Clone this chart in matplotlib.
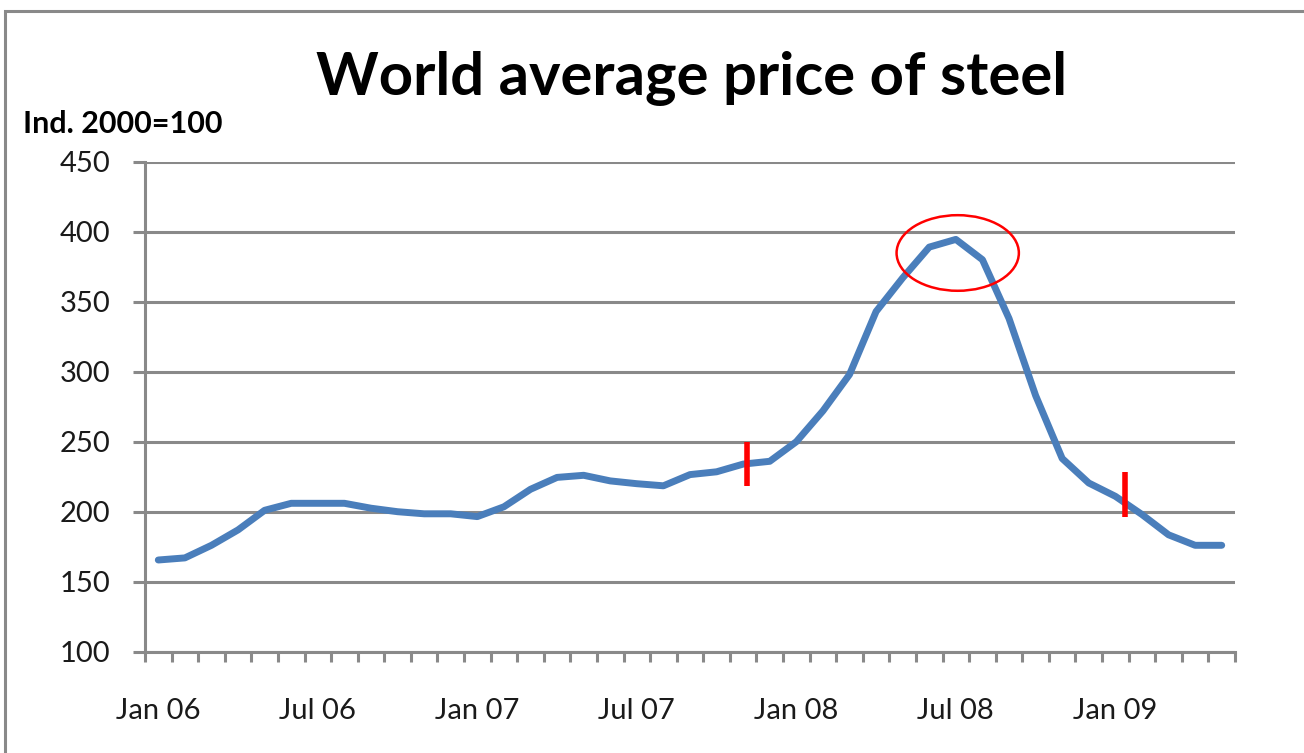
import matplotlib
matplotlib.use("Agg")
import matplotlib.pyplot as plt
from matplotlib.patches import Ellipse, Rectangle
import numpy as np

months = ["Jan 06", "Feb 06", "Mar 06", "Apr 06", "May 06", "Jun 06", "Jul 06", "Aug 06",
          "Sep 06", "Oct 06", "Nov 06", "Dec 06", "Jan 07", "Feb 07", "Mar 07", "Apr 07",
          "May 07", "Jun 07", "Jul 07", "Aug 07", "Sep 07", "Oct 07", "Nov 07", "Dec 07",
          "Jan 08", "Feb 08", "Mar 08", "Apr 08", "May 08", "Jun 08", "Jul 08", "Aug 08",
          "Sep 08", "Oct 08", "Nov 08", "Dec 08", "Jan 09", "Feb 09", "Mar 09", "Apr 09",
          "May 09"]
price_index = [165.5, 167, 176, 187, 201, 206, 206, 206,
               202.5, 200, 198.5, 198.5, 196.5, 203.5, 216, 224.5,
               226, 222, 220, 218.5, 226.5, 228.5, 234, 236,
               250, 272, 298, 343, 367, 389, 394.5, 380,
               338, 283, 238, 220.5, 211, 198, 183.5, 176,
               176]
label_months = ["Jan 06", "Jul 06", "Jan 07", "Jul 07", "Jan 08", "Jul 08", "Jan 09"]
y_ticks = [100, 150, 200, 250, 300, 350, 400, 450]

# annotation marks (data coords)
red_bars = [(22.13, 218, 250), (36.35, 196.5, 228)]
ellipse_center = (30.07, 384.8)
ellipse_size = (4.6, 54)

plt.rcParams['font.family'] = ['Lato', 'DejaVu Sans']

fig = plt.figure(figsize=(13.04, 7.53), dpi=100)
ax = fig.add_axes([145/1304, 1-651.7/753, (1235-145)/1304, (651.7-161.7)/753])

grey = "#898989"
x = np.arange(len(months))
ax.plot(x, price_index, color="#4a7ebb", lw=5.0, solid_joinstyle='round',
        solid_capstyle='round', zorder=3)

ax.set_xlim(-0.5, len(months) - 0.5)
ax.set_ylim(100, 450)
ax.set_yticks(y_ticks)
ax.set_yticklabels([str(v) for v in y_ticks], fontsize=21, color="#1a1a1a")
ax.yaxis.grid(True, color=grey, lw=2.2)
ax.set_axisbelow(True)

ax.set_xticks([months.index(m) for m in label_months])
ax.set_xticklabels(label_months, fontsize=21, color="#1a1a1a")
ax.set_xticks(np.arange(-0.5, len(months)), minor=True)
ax.tick_params(axis='x', which='major', length=0, pad=33)
ax.tick_params(axis='x', which='minor', length=7, width=2.2, color=grey, direction='out')
ax.tick_params(axis='y', length=9, width=2.2, color=grey, pad=16)

for s in ['top', 'right']:
    ax.spines[s].set_visible(False)
for s in ['left', 'bottom']:
    ax.spines[s].set_color(grey)
    ax.spines[s].set_linewidth(2.2)

for xr, y0, y1 in red_bars:
    ax.plot([xr, xr], [y0, y1], color="#ff0000", lw=4.0, zorder=4, solid_capstyle='butt')

ax.add_patch(Ellipse(ellipse_center, ellipse_size[0], ellipse_size[1], fill=False,
                     edgecolor="#ff0000", lw=1.8, zorder=4))

fig.text(692/1304, 1-95/753, "World average price of steel", fontsize=43,
         fontweight='bold', ha='center', va='baseline', color="#000000")
fig.text(23/1304, 1-133/753, "Ind. 2000=100", fontsize=22, fontweight='bold',
         ha='left', va='baseline', color="#000000")

fig.patches.append(Rectangle((5/1304, -0.05), 1.2, 1 - 11.5/753 + 0.05,
                             transform=fig.transFigure, fill=False,
                             edgecolor=grey, lw=2.2))

fig.savefig("out.png", dpi=100)
